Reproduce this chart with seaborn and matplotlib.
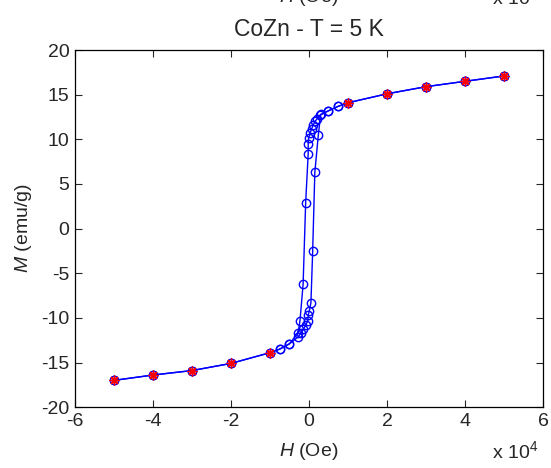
import matplotlib
matplotlib.use("Agg")
import matplotlib.pyplot as plt
import seaborn as sns
import pandas as pd

# Field in units of 1e4 Oe, magnetization in emu/g
H_desc = [5, 4, 3, 2, 1, 0.75, 0.5, 0.28, 0.21, 0.15, 0.11, 0.07, 0.03, -0.01, -0.02, -0.02,
          -0.085, -0.15, -0.23, -0.28, -0.5, -0.75, -1, -2, -3, -4, -5]
M_desc = [17.1, 16.5, 15.9, 15.1, 14.1, 13.7, 13.2, 12.7, 12.3, 12.0, 11.6, 11.2, 10.7, 10.1, 9.5, 8.4,
          2.9, -6.2, -10.3, -11.7, -12.9, -13.5, -13.9, -15.1, -15.9, -16.4, -17.0]
H_asc = [-5, -4, -3, -2, -1, -0.75, -0.5, -0.27, -0.21, -0.15, -0.08, -0.03, -0.02, 0.01, 0.05,
         0.095, 0.15, 0.24, 0.3, 0.5, 0.75, 1, 2, 3, 4, 5]
M_asc = [-17.0, -16.4, -15.9, -15.1, -13.9, -13.5, -12.9, -12.1, -11.7, -11.3, -10.8, -10.3, -9.7, -9.2, -8.3,
         -2.5, 6.3, 10.5, 12.8, 13.2, 13.7, 14.1, 15.1, 15.9, 16.5, 17.1]
H_star = [-5, -4, -3, -2, -1, 1, 2, 3, 4, 5]
M_star = [-17.0, -16.4, -15.9, -15.1, -13.9, 14.1, 15.1, 15.9, 16.5, 17.1]

x_ticks = [-6, -4, -2, 0, 2, 4, 6]
y_ticks = [-20, -15, -10, -5, 0, 5, 10, 15, 20]

sns.set_style("ticks")
plt.rcParams['font.family'] = ['Liberation Sans', 'DejaVu Sans']
plt.rcParams['mathtext.fontset'] = 'custom'
plt.rcParams['mathtext.rm'] = 'Liberation Sans'
plt.rcParams['mathtext.it'] = 'Liberation Sans:italic'

FS = 14

fig = plt.figure(figsize=(5.51, 4.68), dpi=100)
ax = fig.add_axes([0.136, 0.130, 0.8495, 0.763])

df_d = pd.DataFrame({"H": H_desc, "M": M_desc})
df_a = pd.DataFrame({"H": H_asc, "M": M_asc})
df_s = pd.DataFrame({"H": H_star, "M": M_star})

for df in (df_d, df_a):
    sns.lineplot(data=df, x="H", y="M", sort=False, estimator=None, ax=ax,
                 color="#0000ff", linewidth=1.0, marker="o", markersize=6,
                 markerfacecolor="none", markeredgecolor="#0000ff", markeredgewidth=1.0)

sns.scatterplot(data=df_s, x="H", y="M", ax=ax, marker=(8, 2, 0), s=40,
                color="#ff0000", linewidth=1.0, edgecolor="#ff0000", zorder=5)

ax.set_xlim(-6, 6)
ax.set_ylim(-20, 20)
ax.set_xticks(x_ticks)
ax.set_yticks(y_ticks)
ax.set_xticklabels([str(v) for v in x_ticks])
ax.set_yticklabels([str(v) for v in y_ticks])
ax.tick_params(direction="in", top=True, right=True, labelsize=FS, length=5, width=0.8, pad=4)
for s in ax.spines.values():
    s.set_linewidth(0.9)
    s.set_color("black")

ax.set_xlabel("$\\mathit{H}$ (Oe)", fontsize=FS, labelpad=8)
ax.set_ylabel("$\\mathit{M}$ (emu/g)", fontsize=FS, labelpad=5)
ax.set_title("CoZn - T = 5 K", fontsize=16.5, pad=10)

fig.text(0.935, 0.013, "x 10$^{4}$", fontsize=FS, ha="center", va="bottom")
# partially visible top labels (cut at the top edge as in the reference)
fig.text(0.56, 0.982, "$\\mathit{H}$ (Oe)", fontsize=FS, ha="center", va="bottom")
fig.text(0.935, 0.982, "x 10$^{4}$", fontsize=FS, ha="center", va="bottom")

fig.savefig("out.png", dpi=100)
